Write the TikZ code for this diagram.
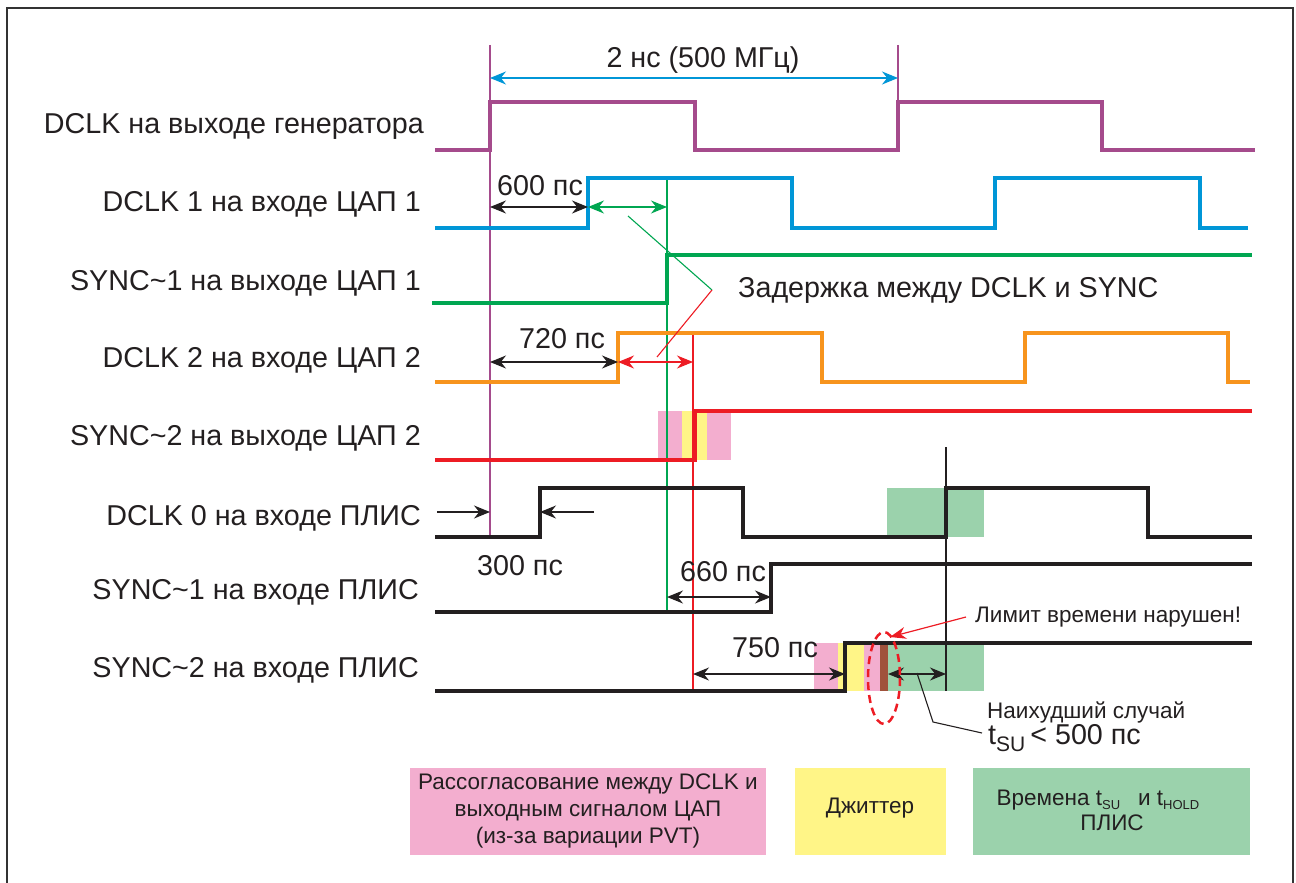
\documentclass[tikz,border=0pt]{standalone}
\usepackage{fontspec}
\setmainfont{Liberation Sans}
\usetikzlibrary{arrows.meta}
\definecolor{cpur}{RGB}{165,75,140}
\definecolor{cblue}{RGB}{0,150,215}
\definecolor{cgreen}{RGB}{0,166,81}
\definecolor{corange}{RGB}{247,148,29}
\definecolor{cred}{RGB}{237,28,36}
\definecolor{cpink}{RGB}{243,174,207}
\definecolor{cyellow}{RGB}{255,245,135}
\definecolor{cgfill}{RGB}{155,210,172}
\definecolor{cbrown}{RGB}{160,82,60}
\definecolor{cblack}{RGB}{35,31,32}
\begin{document}
\begin{tikzpicture}[x=1pt,y=-1pt,
  font=\fontsize{28.7}{32}\selectfont,
  sig/.style={line width=3.2pt,line join=miter},
  vline/.style={line width=1.2pt},
  dim/.style={line width=1.3pt,{Stealth[length=16pt,width=13pt]}-{Stealth[length=16pt,width=13pt]}},
  onearr/.style={line width=1.3pt,-{Stealth[length=16pt,width=13pt]}},
  lbl/.style={anchor=east,inner sep=0pt,text=cblack},
  txt/.style={inner sep=0pt,text=cblack},
  small/.style={font=\fontsize{22.5}{27}\selectfont},
  lead/.style={line width=1.1pt}]
\useasboundingbox (0,0) rectangle (1296,883);
% frame
\draw[line width=1.5pt,black!80] (7,883) -- (7,8) -- (1293,8) -- (1293,883);

% coloured boxes on waveforms
\fill[cpink] (658,411) rectangle (731,460);
\fill[cyellow] (682,411) rectangle (707,460);
\fill[cgfill] (887,488) rectangle (984,537);
\fill[cpink] (814,643) rectangle (838,691);
\fill[cyellow] (838,643) rectangle (864,691);
\fill[cpink] (864,643) rectangle (880,691);
\fill[cbrown] (880,643) rectangle (888,691);
\fill[cgfill] (888,643) rectangle (984,691);

% vertical markers
\draw[vline,cpur] (490,45) -- (490,537);
\draw[vline,cpur] (898,45) -- (898,102);
\draw[vline,cgreen] (667,178) -- (667,612);
\draw[vline,cred] (693,333) -- (693,691);
\draw[vline,cblack] (946,447) -- (946,691);

% waveforms
\draw[sig,cpur] (435,150) -- (490,150) -- (490,102) -- (695,102) -- (695,150) -- (898,150) -- (898,102) -- (1102,102) -- (1102,150) -- (1255,150);
\draw[sig,cblue] (435,228) -- (588,228) -- (588,178) -- (792,178) -- (792,228) -- (995,228) -- (995,178) -- (1200,178) -- (1200,228) -- (1248,228);
\draw[sig,cgreen] (432,303) -- (667,303) -- (667,255) -- (1252,255);
\draw[sig,corange] (435,382) -- (618,382) -- (618,333) -- (822,333) -- (822,382) -- (1025,382) -- (1025,333) -- (1228,333) -- (1228,382) -- (1250,382);
\draw[sig,cred] (435,460) -- (695,460) -- (695,411) -- (1252,411);
\draw[sig,cblack] (435,537) -- (540,537) -- (540,488) -- (743,488) -- (743,537) -- (946,537) -- (946,488) -- (1148,488) -- (1148,537) -- (1252,537);
\draw[sig,cblack] (435,612) -- (771,612) -- (771,564) -- (1252,564);
\draw[sig,cblack] (435,691) -- (845,691) -- (845,643) -- (1252,643);

% left labels
\node[lbl] (l1) at (424,126) {DCLK на выходе генератора};
\node[lbl] (l2) at (421,204) {DCLK 1 на входе ЦАП 1};
\node[lbl] (l3) at (421,283) {SYNC\textasciitilde1 на выходе ЦАП 1};
\node[lbl] (l4) at (421,360) {DCLK 2 на входе ЦАП 2};
\node[lbl] (l5) at (421,438) {SYNC\textasciitilde2 на выходе ЦАП 2};
\node[lbl] (l6) at (421,518) {DCLK 0 на входе ПЛИС};
\node[lbl] (l7) at (419,592) {SYNC\textasciitilde1 на входе ПЛИС};
\node[lbl] (l8) at (419,670) {SYNC\textasciitilde2 на входе ПЛИС};

% dimension coordinates
\coordinate (p1a) at (490,78);  \coordinate (p1b) at (898,78);
\coordinate (d1a) at (490,207); \coordinate (d1b) at (588,207); \coordinate (d1c) at (667,207);
\coordinate (d2a) at (490,362); \coordinate (d2b) at (618,362); \coordinate (d2c) at (693,362);
\coordinate (d0a) at (437,512); \coordinate (d0b) at (490,512);
\coordinate (d0c) at (594,512); \coordinate (d0d) at (540,512);
\coordinate (d3a) at (667,597); \coordinate (d3b) at (771,597);
\coordinate (d4a) at (693,674); \coordinate (d4b) at (845,674);
\coordinate (d5a) at (888,674); \coordinate (d5b) at (946,674);

\draw[dim,cblue] (p1a) -- (p1b);
\node[txt] (tp) at (703,60) {2 нс (500 МГц)};
\draw[dim,cblack] (d1a) -- (d1b);
\draw[dim,cgreen] (d1b) -- (d1c);
\node[txt] (t600) at (540,186) {600 пс};
\draw[dim,cblack] (d2a) -- (d2b);
\draw[dim,cred] (d2b) -- (d2c);
\node[txt] (t720) at (562,339) {720 пс};
\draw[onearr,cblack] (d0a) -- (d0b);
\draw[onearr,cblack] (d0c) -- (d0d);
\node[txt] (t300) at (520,566) {300 пс};
\draw[dim,cblack] (d3a) -- (d3b);
\node[txt] (t660) at (723,572) {660 пс};
\draw[dim,cblack] (d4a) -- (d4b);
\node[txt] (t750) at (775,648) {750 пс};
\draw[dim,cblack] (d5a) -- (d5b);

% delay leader
\node[txt,anchor=west] (tdel) at (738,290) {Задержка между DCLK и SYNC};
\coordinate (jn) at (712,290);
\coordinate (lg) at (628,216);
\coordinate (lr) at (657,357);
\draw[lead,cgreen] (lg) -- (jn);
\draw[lead,cred] (lr) -- (jn);

% violation ellipse and callouts
\draw[cred,line width=2.5pt,dash pattern=on 8pt off 5pt] (884,678) ellipse [x radius=16,y radius=46];
\node[txt,small,anchor=west] (tlim) at (975,617) {Лимит времени нарушен!};
\coordinate (lima) at (966,617);
\coordinate (limb) at (890,637);
\draw[line width=1.2pt,cred,-{Stealth[length=16pt,width=12pt]}] (lima) -- (limb);

\node[txt,small,anchor=west] (tworst) at (987,712) {Наихудший случай};
\node[txt,anchor=west] (tsu) at (988,738) {t\raisebox{-7pt}{\fontsize{21}{21}\selectfont SU}\hspace{5pt}< 500 пс};
\coordinate (wa) at (917,673);
\coordinate (wb) at (933,722);
\coordinate (wc) at (982,733);
\draw[lead,cblack] (wa) -- (wb) -- (wc);

% legend
\node[fill=cpink,minimum width=356pt,minimum height=87pt,inner sep=0pt] (lgp) at (588,811.5) {};
\node[txt,small,align=center] (lgpt) at (588,811) {Рассогласование между DCLK и\\выходным сигналом ЦАП\\(из-за вариации PVT)};
\node[fill=cyellow,minimum width=151pt,minimum height=87pt,inner sep=0pt] (lgy) at (870.5,811.5) {};
\node[txt,small] (lgyt) at (870,808) {Джиттер};
\node[fill=cgfill,minimum width=277pt,minimum height=87pt,inner sep=0pt] (lgg) at (1111.5,811.5) {};
\node[txt,small] (lggt1) at (1098,800) {Времена t\raisebox{-4pt}{\fontsize{13}{13}\selectfont SU}\hspace{18pt}и t\raisebox{-4pt}{\fontsize{13}{13}\selectfont HOLD}};
\node[txt,small] (lggt2) at (1112,823) {ПЛИС};
\end{tikzpicture}
\end{document}
